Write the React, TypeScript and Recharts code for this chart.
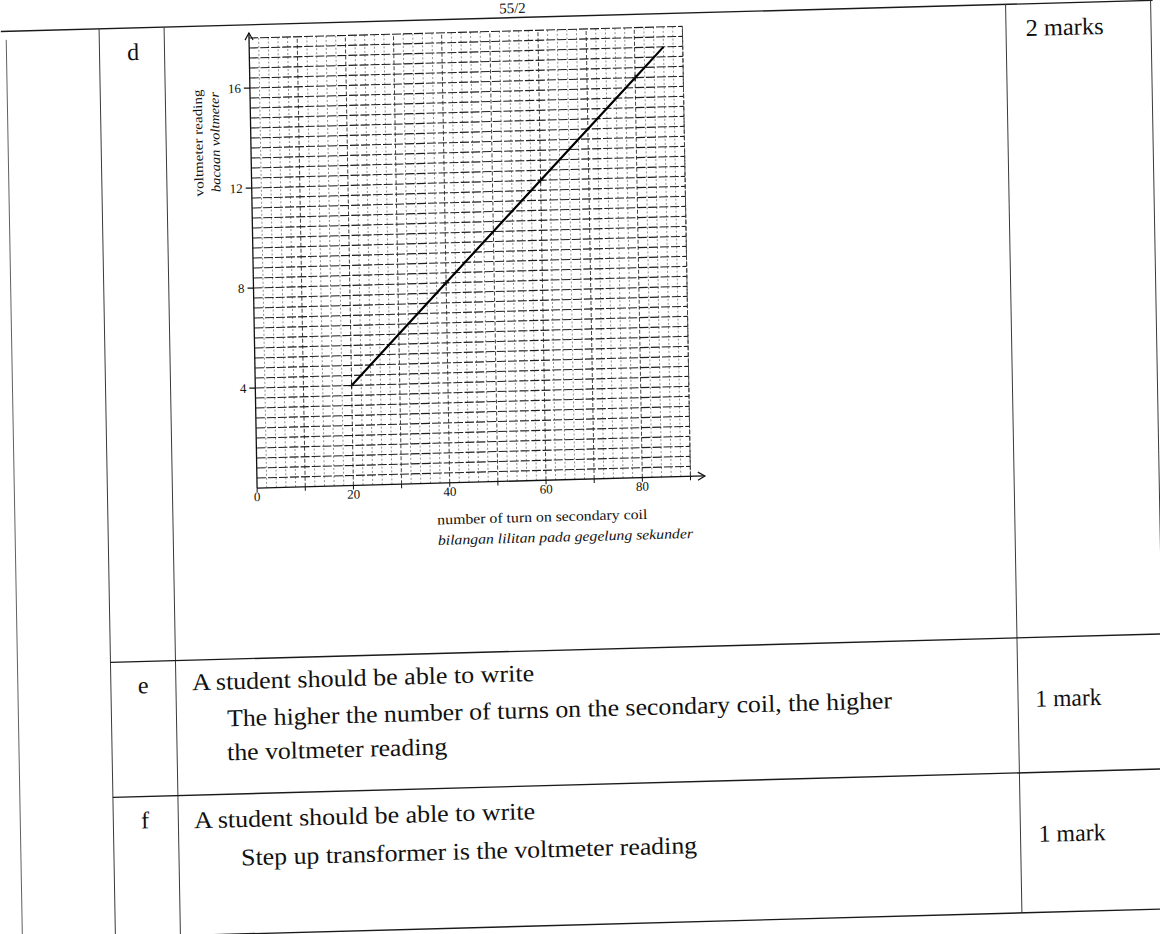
import React from 'react';
import { LineChart, Line, XAxis, YAxis, ReferenceLine, ReferenceDot } from 'recharts';

// ---- chart data ----
const turns = [20, 40, 60, 80, 86];
const voltage = [4, 8, 12, 16, 17.2];
const markedTurns = [20, 40, 60, 80];
const xTickValues = [0, 10, 20, 30, 40, 50, 60, 70, 80, 90];
const xTickLabels = ['0', '', '20', '', '40', '', '60', '', '80', ''];
const yTickValues = [4, 8, 12, 16];
const yTitle = ['voltmeter reading', 'bacaan voltmeter'];
const xTitle = ['number of turn on secondary coil', 'bilangan lilitan pada gegelung sekunder'];

// graph-paper grid positions
const hGrid = Array.from({ length: 45 }, (_, i) => Number(((i + 1) * 0.4).toFixed(1)));
const vGrid = Array.from({ length: 45 }, (_, i) => (i + 1) * 2);

const data = turns.map((n, i) => ({ n, v: voltage[i] }));

const serif = '"Liberation Serif", "Times New Roman", serif';

const CrossDot = (props: any) => {
  const { cx, cy, payload } = props;
  if (!markedTurns.includes(payload.n)) return <g />;
  return (
    <path
      d={`M${cx - 3},${cy} L${cx + 3},${cy} M${cx},${cy - 3} L${cx},${cy + 3}`}
      stroke="#111"
      strokeWidth={1.2}
      fill="none"
    />
  );
};

const UpArrow = (props: any) => {
  const { cx, cy } = props;
  return (
    <path d={`M${cx - 4},${cy + 7} L${cx},${cy} L${cx + 4},${cy + 7}`} stroke="#111" strokeWidth={1.2} fill="none" />
  );
};
const RightArrow = (props: any) => {
  const { cx, cy } = props;
  return (
    <path d={`M${cx - 7},${cy - 4} L${cx},${cy} L${cx - 7},${cy + 4}`} stroke="#111" strokeWidth={1.2} fill="none" />
  );
};

const T = (p: { x: number; y: number; len?: number; size?: number; italic?: boolean; anchor?: string; children: string }) => (
  <text
    x={p.x}
    y={p.y}
    fontFamily={serif}
    fontSize={p.size ?? 24}
    fontStyle={p.italic ? 'italic' : 'normal'}
    fill="#111"
    dominantBaseline="central"
    textAnchor={(p.anchor as any) ?? 'start'}
    {...(p.len ? { textLength: p.len, lengthAdjust: 'spacingAndGlyphs' } : {})}
  >
    {p.children}
  </text>
);

function Page() {
  const line = { stroke: '#1a1a1a', strokeWidth: 1.4 };
  const vline = { stroke: '#3a3a3a', strokeWidth: 1 };
  return (
    <svg width={1250} height={1000} style={{ position: 'absolute', left: 0, top: 0 }}>
      {/* header */}
      <text x={512} y={27} fontFamily={serif} fontSize={15} fill="#111" textAnchor="middle">55/2</text>
      {/* table lines */}
      <line x1={0} y1={31.5} x2={1152} y2={31.5} {...line} />
      <line x1={5.5} y1={40} x2={5.5} y2={1000} {...vline} strokeWidth={0.8} />
      <line x1={98.5} y1={31.5} x2={98.5} y2={1000} {...vline} />
      <line x1={163.5} y1={31.5} x2={163.5} y2={1000} {...vline} />
      <line x1={1005} y1={31.5} x2={1005} y2={940} {...vline} />
      <line x1={1150} y1={31.5} x2={1150} y2={665} {...vline} />
      <line x1={98.5} y1={665} x2={1250} y2={665} {...line} />
      <line x1={98.5} y1={800} x2={1250} y2={800} {...line} />
      <line x1={163.5} y1={940} x2={1250} y2={940} {...line} />

      {/* row d */}
      <T x={132} y={55.6} anchor="middle">d</T>
      <T x={1024.5} y={55.7} len={78}>2 marks</T>

      {/* row e */}
      <T x={130.7} y={689} anchor="middle">e</T>
      <T x={179.7} y={687.2} len={342}>A student should be able to write</T>
      <T x={214} y={724.1} len={665}>The higher the number of turns on the secondary coil, the higher</T>
      <T x={213.5} y={758.1} len={220}>the voltmeter reading</T>
      <T x={1022.4} y={726.4} len={66}>1 mark</T>

      {/* row f */}
      <T x={130.2} y={823.9} anchor="middle">f</T>
      <T x={179.2} y={825.2} len={341}>A student should be able to write</T>
      <T x={225.6} y={863.5} len={456}>Step up transformer is the voltmeter reading</T>
      <T x={1023} y={861.5} len={67}>1 mark</T>

      {/* chart axis titles */}
      <g transform="translate(195.4,148.3) rotate(-90)">
        <T x={0} y={0} size={13} len={107} anchor="middle">{yTitle[0]}</T>
      </g>
      <g transform="translate(212.4,147.8) rotate(-90)">
        <T x={0} y={0} size={13} len={100} italic anchor="middle">{yTitle[1]}</T>
      </g>
      <T x={427.7} y={531.5} size={14} len={210}>{xTitle[0]}</T>
      <T x={428} y={552} size={14} len={255} italic>{xTitle[1]}</T>
    </svg>
  );
}

function Chart() {
  return (
    <div style={{ position: 'absolute', left: 180, top: 0 }}>
      <LineChart width={560} height={600} data={data} margin={{ top: 39.75, right: 44, bottom: 75.25, left: 28.2 }}>
        <XAxis
          dataKey="n"
          type="number"
          domain={[0, 93]}
          ticks={xTickValues}
          tickFormatter={(v: number) => xTickLabels[xTickValues.indexOf(v)] ?? ''}
          tick={{ fontSize: 13, fill: '#111', fontFamily: serif }}
          tickSize={4}
          tickMargin={0}
          height={30}
          allowDataOverflow
          axisLine={{ stroke: '#111', strokeWidth: 1.3 }}
          tickLine={{ stroke: '#111', strokeWidth: 1 }}
        />
        <YAxis
          type="number"
          domain={[0, 18.2]}
          ticks={yTickValues}
          tick={{ fontSize: 13, fill: '#111', fontFamily: serif }}
          tickSize={6}
          tickMargin={3}
          width={40}
          allowDataOverflow
          axisLine={{ stroke: '#111', strokeWidth: 1.3 }}
          tickLine={{ stroke: '#111', strokeWidth: 1.2 }}
        />
        {vGrid.map((g) => (
          <ReferenceLine
            key={'v' + g}
            segment={[{ x: g, y: 0 }, { x: g, y: 18 }]}
            stroke={g % 10 === 0 ? '#444' : '#777'}
            strokeWidth={g % 10 === 0 ? 1 : 0.8}
            strokeDasharray={g % 10 === 0 ? '4 2' : '2 2'}
            ifOverflow="visible"
          />
        ))}
        {hGrid.map((g) => (
          <ReferenceLine
            key={'h' + g}
            segment={[{ x: 0, y: g }, { x: 90, y: g }]}
            stroke="#1e1e1e"
            strokeWidth={1.1}
            strokeDasharray="9 2"
            ifOverflow="visible"
          />
        ))}
        <ReferenceLine segment={[{ x: 90, y: 0 }, { x: 90, y: 18 }]} stroke="#444" strokeWidth={1} strokeDasharray="5 2" ifOverflow="visible" />
        <ReferenceDot x={0} y={18.2} r={0} shape={UpArrow} ifOverflow="visible" />
        <ReferenceDot x={93} y={0} r={0} shape={RightArrow} ifOverflow="visible" />
        <Line
          dataKey="v"
          stroke="#000"
          strokeWidth={2.2}
          type="linear"
          dot={<CrossDot />}
          activeDot={false}
          isAnimationActive={false}
        />
      </LineChart>
    </div>
  );
}

export default function App() {
  return (
    <div style={{ position: 'fixed', left: 0, top: 0, width: 1160, height: 934, overflow: 'hidden', background: '#fff' }}>
      <div
        style={{
          position: 'absolute',
          left: 0,
          top: 0,
          width: 1250,
          height: 1000,
          transform: 'matrix(1,-0.027,0.018,1,0,0)',
          transformOrigin: '0 0',
        }}
      >
        <Page />
        <Chart />
      </div>
    </div>
  );
}
